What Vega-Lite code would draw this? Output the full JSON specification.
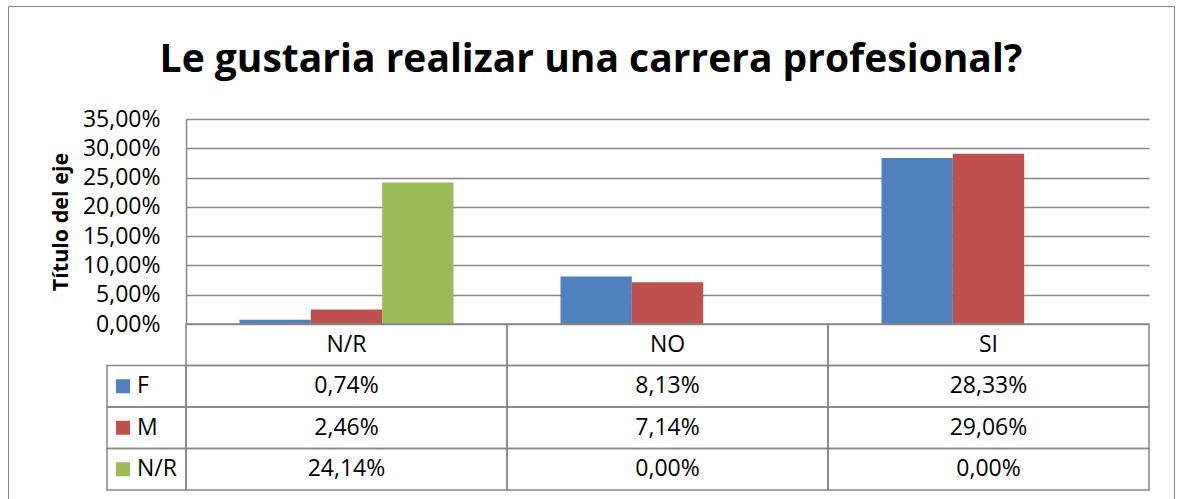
{
  "$schema": "https://vega.github.io/schema/vega-lite/v6.json",
  "padding": {"left": 7, "top": 5, "right": 0, "bottom": 0},
  "config": {
    "font": "Open Sans",
    "view": {"stroke": null},
    "locale": {"number": {"decimal": ",", "thousands": ".", "grouping": [3], "currency": ["", " €"]}},
    "text": {"fontSize": 23, "color": "black", "font": "Open Sans"}
  },
  "datasets": {
    "bars": [
      {"series": "F", "cat": "N/R", "value": 0.0074},
      {"series": "F", "cat": "NO", "value": 0.0813},
      {"series": "F", "cat": "SI", "value": 0.2833},
      {"series": "M", "cat": "N/R", "value": 0.0246},
      {"series": "M", "cat": "NO", "value": 0.0714},
      {"series": "M", "cat": "SI", "value": 0.2906},
      {"series": "N/R", "cat": "N/R", "value": 0.2414},
      {"series": "N/R", "cat": "NO", "value": 0.0},
      {"series": "N/R", "cat": "SI", "value": 0.0}
    ]
  },
  "columns": 1,
  "align": "none",
  "bounds": "flush",
  "spacing": -382,
  "concat": [
    {
      "width": 1166,
      "height": 495,
      "data": {"values": []},
      "mark": "rect",
      "view": {"stroke": "#868686", "strokeWidth": 1},
      "title": {"text": "Le gustaria realizar una carrera profesional?", "fontSize": 39, "fontWeight": "bold", "font": "Open Sans", "color": "black", "anchor": "middle", "offset": -74}
    },
    {
      "columns": 3,
      "bounds": "flush",
      "spacing": 0,
      "resolve": {"scale": {"x": "independent", "y": "independent", "color": "independent"}},
      "concat": [
        {"width": 99, "height": 205, "data": {"values": []}, "mark": "rect"},
        {"width": 79, "height": 205, "data": {"values": []}, "mark": "rect"},
        {
          "width": 963,
          "height": 205,
          "data": {"name": "bars"},
          "mark": {"type": "bar"},
          "encoding": {
            "x": {"field": "cat", "type": "nominal", "scale": {"domain": ["N/R", "NO", "SI"], "paddingInner": 0, "paddingOuter": 0}, "axis": null},
            "xOffset": {"field": "series", "type": "nominal", "scale": {"domain": ["F", "M", "N/R"], "paddingInner": 0, "paddingOuter": 0.75}},
            "y": {
              "field": "value", "type": "quantitative",
              "scale": {"domain": [0, 0.35]},
              "axis": {
                "values": [0, 0.05, 0.1, 0.15, 0.2, 0.25, 0.3, 0.35],
                "format": ".2%",
                "grid": true, "gridColor": "#868686", "gridWidth": 1.5,
                "domain": true, "domainColor": "#868686", "domainWidth": 1.5,
                "ticks": false, "tickSize": 0,
                "labelPadding": 26, "labelFontSize": 23, "labelColor": "black", "labelFont": "Open Sans",
                "title": "Título del eje", "titleFontSize": 21.5, "titleFontWeight": "bold", "titleColor": "black", "titleFont": "Open Sans", "titlePadding": 10
              }
            },
            "color": {"field": "series", "type": "nominal", "scale": {"domain": ["F", "M", "N/R"], "range": ["#4F81BD", "#C0504D", "#9BBB59"]}, "legend": null}
          }
        },
        {"width": 99, "height": 166, "data": {"values": []}, "mark": "rect"},
        {
          "width": 79,
          "height": 166,
          "data": {"name": "bars"},
          "transform": [{"aggregate": [{"op": "count", "as": "n"}], "groupby": ["series"]}],
          "encoding": {
            "y": {"field": "series", "type": "nominal", "scale": {"domain": ["_hdr", "F", "M", "N/R"], "paddingInner": 0, "paddingOuter": 0}, "axis": null}
          },
          "layer": [
            {"mark": {"type": "rect", "filled": false, "color": "#868686", "strokeWidth": 1.5}},
            {
              "mark": {"type": "point", "shape": "square", "filled": true, "size": 196, "opacity": 1, "xOffset": -23.5},
              "encoding": {"color": {"field": "series", "type": "nominal", "scale": {"domain": ["F", "M", "N/R"], "range": ["#4F81BD", "#C0504D", "#9BBB59"]}, "legend": null}}
            },
            {
              "mark": {"type": "text", "align": "left", "dx": -9.5, "fontSize": 23},
              "encoding": {"text": {"field": "series"}}
            }
          ]
        },
        {
          "width": 963,
          "height": 166,
          "data": {"name": "bars"},
          "encoding": {
            "x": {"field": "cat", "type": "nominal", "scale": {"domain": ["N/R", "NO", "SI"], "paddingInner": 0, "paddingOuter": 0}, "axis": null}
          },
          "layer": [
            {
              "mark": {"type": "rect", "filled": false, "color": "#868686", "strokeWidth": 1.5},
              "encoding": {"y": {"field": "series", "type": "nominal", "scale": {"domain": ["_hdr", "F", "M", "N/R"], "paddingInner": 0, "paddingOuter": 0}, "axis": null}}
            },
            {
              "transform": [{"filter": "datum.series == 'F'"}],
              "mark": {"type": "rect", "filled": false, "color": "#868686", "strokeWidth": 1.5},
              "encoding": {"y": {"datum": "_hdr", "type": "nominal"}}
            },
            {
              "mark": {"type": "text", "fontSize": 23},
              "encoding": {
                "y": {"field": "series", "type": "nominal"},
                "text": {"field": "value", "type": "quantitative", "format": ".2%"}
              }
            },
            {
              "transform": [{"filter": "datum.series == 'F'"}],
              "mark": {"type": "text", "fontSize": 23},
              "encoding": {
                "y": {"datum": "_hdr", "type": "nominal"},
                "text": {"field": "cat", "type": "nominal"}
              }
            }
          ]
        }
      ]
    }
  ]
}
